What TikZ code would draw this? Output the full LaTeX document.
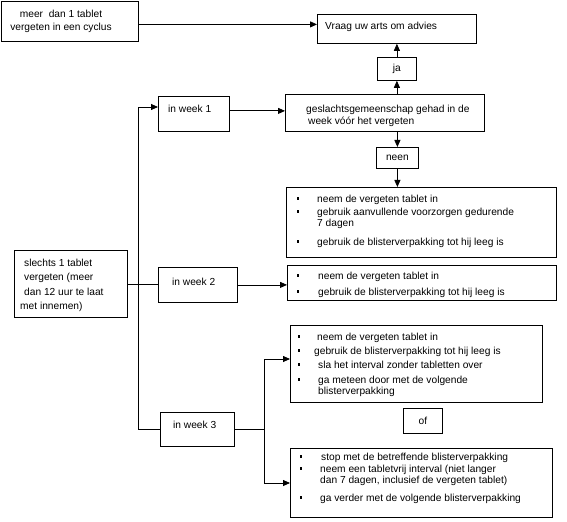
\documentclass[tikz,border=0pt]{standalone}
\usepackage{fontspec}
\setmainfont{Liberation Sans}
\usetikzlibrary{arrows.meta}
\newcommand{\itm}[5]{%
  \node[bul] (#1b) at (#2,#4-3.6) {};
  \node[txt] (#1) at (#3,#4) {#5};}
\newcommand{\itmtwo}[6]{%
  \node[bul] (#1b) at (#2,#4-3.6) {};
  \node[txt] (#1) at (#3,#4+11) {#5\\#6};}
\begin{document}
\begin{tikzpicture}[x=1bp,y=-1bp,
  box/.style={draw, line width=0.8bp, inner sep=0pt, anchor=north west,
    font=\fontsize{10.2bp}{11bp}\selectfont},
  txt/.style={inner sep=0pt, anchor=base west, align=left,
    font=\fontsize{10.2bp}{11bp}\selectfont},
  line/.style={line width=0.8bp},
  arr/.style={line width=0.8bp, -{Triangle[length=7bp,width=6bp]}},
  bul/.style={fill, minimum width=2.6bp, minimum height=3bp, inner sep=0pt}]
\useasboundingbox (0,0) rectangle (567,522);

% boxes
\node[box, minimum width=137bp, minimum height=40bp] (A) at (1,1) {};
\node[box, minimum width=159bp, minimum height=29bp] (vraag) at (317,14) {};
\node[box, minimum width=39bp, minimum height=23bp] (ja) at (377,57) {ja};
\node[box, minimum width=199bp, minimum height=37bp] (gesl) at (285,94) {};
\node[box, minimum width=42bp, minimum height=21bp] (neen) at (376,147) {neen};
\node[box, minimum width=270bp, minimum height=70bp] (b3) at (286,187) {};
\node[box, minimum width=269bp, minimum height=35bp] (b4) at (287,265) {};
\node[box, minimum width=113bp, minimum height=67bp] (sl) at (14,250) {};
\node[box, minimum width=71bp, minimum height=35bp] (w1) at (158,96) {};
\node[box, minimum width=79bp, minimum height=35bp] (w2) at (158,267) {};
\node[box, minimum width=74bp, minimum height=34bp] (w3) at (160,412) {};
\node[box, minimum width=252bp, minimum height=77bp] (b5) at (290,325) {};
\node[box, minimum width=39bp, minimum height=25bp] (of) at (403,408) {of};
\node[box, minimum width=262bp, minimum height=69bp] (b6) at (290,448) {};

% texts (multi-line nodes are anchored at the baseline of their last line)
\node[txt, align=center, anchor=base, font=\fontsize{10.2bp}{13bp}\selectfont] (At) at (61,30.5)
  {meer\ \ dan 1 tablet\\vergeten in een cyclus};
\node[txt] (vraagt) at (325,30) {Vraag uw arts om advies};
\node[txt, font=\fontsize{10.2bp}{12bp}\selectfont] (geslt) at (306,124.5)
  {geslachtsgemeenschap gehad in de\\\hspace*{2bp}week vóór het vergeten};
\node[txt, font=\fontsize{10.2bp}{14.3bp}\selectfont] (slt) at (24,309.4)
  {slechts 1 tablet\\vergeten (meer\\dan 12 uur te laat\\\hspace*{-4bp}met innemen)};
\node[txt] (w1t) at (168,112.5) {in week 1};
\node[txt] (w2t) at (172,285.5) {in week 2};
\node[txt] (w3t) at (173,428.5) {in week 3};

\itm{b3a}{298}{317}{202.5}{neem de vergeten tablet in}
\itmtwo{b3b}{298}{317}{215.5}{gebruik aanvullende voorzorgen gedurende}{7 dagen}
\itm{b3c}{298}{317}{245}{gebruik de blisterverpakking tot hij leeg is}

\itm{b4a}{298}{318}{279.5}{neem de vergeten tablet in}
\itm{b4b}{298}{318}{295.5}{gebruik de blisterverpakking tot hij leeg is}

\itm{b5a}{299}{317}{340}{neem de vergeten tablet in}
\itm{b5b}{299}{314}{354}{gebruik de blisterverpakking tot hij leeg is}
\itm{b5c}{299}{318}{368}{sla het interval zonder tabletten over}
\itmtwo{b5d}{299}{318}{383}{ga meteen door met de volgende}{blisterverpakking}

\itm{b6a}{301}{321}{460.5}{stop met de betreffende blisterverpakking}
\itmtwo{b6b}{301}{320}{472.5}{neem een tabletvrij interval (niet langer}{dan 7 dagen, inclusief de vergeten tablet)}
\itm{b6c}{301}{320}{501.5}{ga verder met de volgende blisterverpakking}

% connectors
\coordinate (a1) at ([yshift=-3bp]A.east);
\draw[arr] (a1) -- (a1 -| vraag.west);
\draw[arr] (ja.south |- gesl.north) -- (ja.south);
\draw[arr] (ja.north) -- (ja.north |- vraag.south);
\draw[arr] (neen.north |- gesl.south) -- (neen.north);
\draw[arr] (neen.south) -- (neen.south |- b3.north);
\coordinate (g1) at ([yshift=3bp]w1.east);
\draw[arr] (g1) -- (g1 -| gesl.west);

\coordinate (t1) at (138,107);
\coordinate (t3) at (138,429);
\draw[line] (t3) -- (t1);
\draw[arr] (t1) -- (t1 -| w1.west);
\draw[line] (t3) -- (t3 -| w3.west);
\draw[line] (sl.east) -- (sl.east -| w2.west);
\draw[arr] (w2.east) -- (w2.east -| b4.west);

\coordinate (br5) at (264,359);
\coordinate (br6) at (264,483);
\draw[line] (w3.east) -- (w3.east -| br5);
\draw[line] (br5) -- (br6);
\draw[arr] (br5) -- (br5 -| b5.west);
\draw[arr] (br6) -- (br6 -| b6.west);
\end{tikzpicture}
\end{document}
